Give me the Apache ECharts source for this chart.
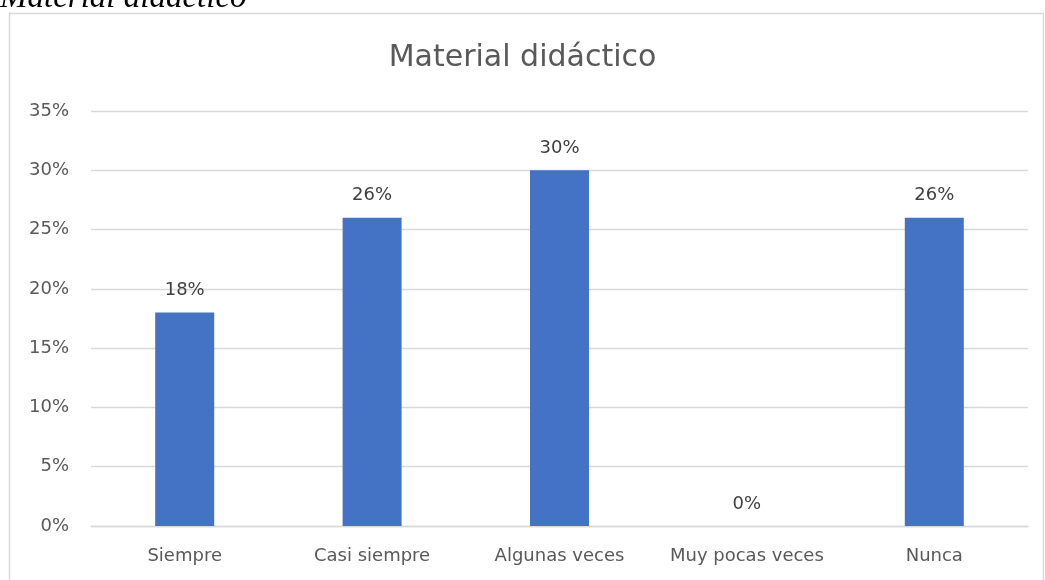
<!DOCTYPE html>
<html><head><meta charset="utf-8">
<script src="https://cdn.jsdelivr.net/npm/echarts@6/dist/echarts.min.js"></script>
<style>html,body{margin:0;padding:0;background:#fff}#c{width:1045px;height:580px}</style>
</head><body><div id="c"></div>
<script>
const categories = ['Siempre', 'Casi siempre', 'Algunas veces', 'Muy pocas veces', 'Nunca'];
const values = [18, 26, 30, 0, 26];
const yTicks = [0, 5, 10, 15, 20, 25, 30, 35];

const F = 'DejaVu Sans';
const chart = echarts.init(document.getElementById('c'));
chart.setOption({
  animation: false,
  title: {
    text: 'Material didáctico', left: 'center', top: 38,
    textStyle: { fontFamily: F, fontWeight: 'normal', fontSize: 30, color: '#595959' }
  },
  graphic: [
    { type: 'rect', shape: { x: 9.5, y: 13.5, width: 1034, height: 600 }, style: { fill: 'none', stroke: '#d9d9d9', lineWidth: 1.5 } },
    { type: 'text', style: { x: 0, y: -18, text: 'Material didáctico', font: 'italic 33px "Liberation Serif"', fill: '#000' } }
  ],
  grid: { left: 91, right: 17, top: 111, bottom: 54 },
  xAxis: {
    type: 'category', data: categories,
    axisLine: { lineStyle: { color: '#d9d9d9', width: 1.3 } },
    axisTick: { show: false },
    axisLabel: { interval: 0, color: '#595959', fontSize: 18, fontFamily: F, margin: 21 }
  },
  yAxis: {
    type: 'value', min: 0, max: 35, interval: 5,
    axisLabel: { formatter: v => yTicks.includes(v) ? v + '%' : '', color: '#595959', fontSize: 18, fontFamily: F, margin: 22 },
    splitLine: { lineStyle: { color: '#d9d9d9', width: 1.3 } },
    axisLine: { show: false }, axisTick: { show: false }
  },
  series: [{
    type: 'bar', data: values, barWidth: 59,
    itemStyle: { color: '#4472c4' },
    label: { show: true, position: 'top', distance: 13, formatter: p => p.value + '%', color: '#404040', fontSize: 18, fontFamily: F }
  }]
});
</script></body></html>
